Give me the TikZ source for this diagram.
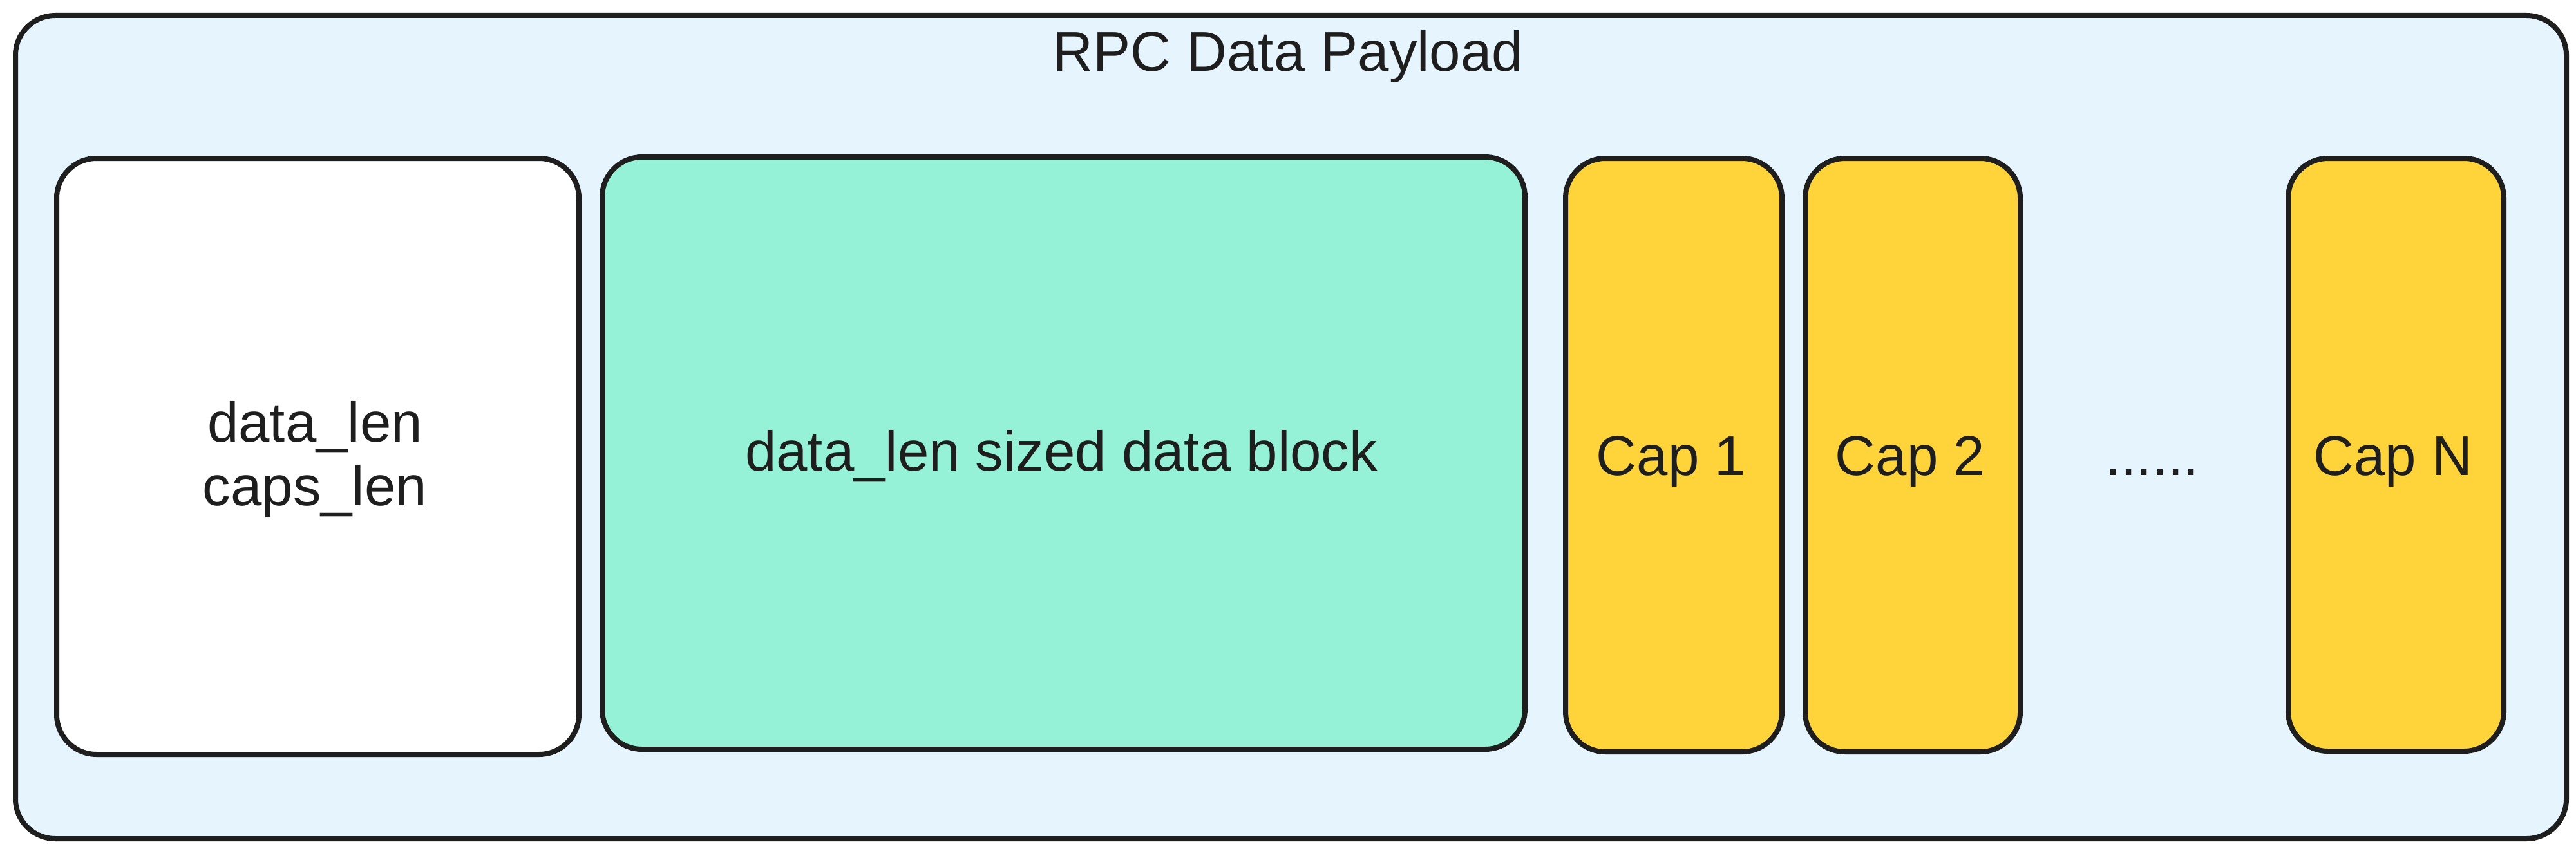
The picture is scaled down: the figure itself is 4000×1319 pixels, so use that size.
\documentclass[tikz,border=0pt]{standalone}
\usepackage{fontspec}
\setmainfont{Liberation Sans}
\definecolor{strokec}{HTML}{1E1E1E}
\definecolor{outerc}{HTML}{E6F4FD}
\definecolor{greenc}{HTML}{96F2D7}
\definecolor{capc}{HTML}{FFD43B}
\begin{document}
\begin{tikzpicture}[x=1pt,y=-1pt,
  box/.style={draw=strokec, line width=8pt, rounded corners=62pt, inner sep=0pt, anchor=north west, shape=rectangle},
  lbl/.style={font=\fontsize{87}{99}\selectfont, text=strokec, anchor=base, inner sep=0pt}]
\useasboundingbox (0,0) rectangle (4000,1319);
\node[box, fill=outerc, minimum width=3961pt, minimum height=1279pt] (payload) at (20,20) {};
\node[lbl] (title) at (2000,111) {RPC Data Payload};
\node[box, fill=white, minimum width=811pt, minimum height=926pt] (lens) at (84,242) {};
\node[lbl] (lensa) at (489,686) {data\_len};
\node[lbl] (lensb) at (489,785) {caps\_len};
\node[box, fill=greenc, minimum width=1433pt, minimum height=920pt] (block) at (931,240) {};
\node[lbl] (blocktxt) at (1648,731) {data\_len sized data block};
\node[box, fill=capc, minimum width=336pt, minimum height=922pt] (cap1) at (2427,242) {};
\node[lbl] (cap1txt) at (2595,738) {Cap 1};
\node[box, fill=capc, minimum width=334pt, minimum height=922pt] (cap2) at (2799,242) {};
\node[lbl] (cap2txt) at (2966,738) {Cap 2};
\node[lbl] (dots) at (3342,738) {......};
\node[box, fill=capc, minimum width=335pt, minimum height=921pt] (capn) at (3549,242) {};
\node[lbl] (capntxt) at (3716,738) {Cap N};
\end{tikzpicture}
\end{document}
